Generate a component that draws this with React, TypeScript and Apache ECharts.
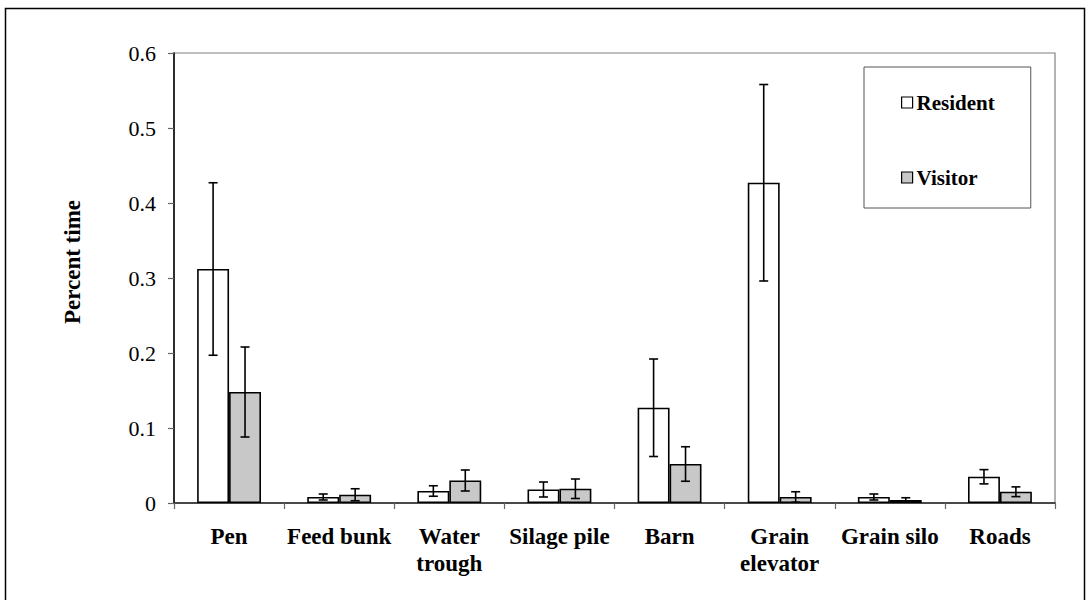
import React, { useEffect, useRef } from "react";
import * as echarts from "echarts";

const categories = ["Pen", "Feed bunk", "Water\ntrough", "Silage pile", "Barn", "Grain\nelevator", "Grain silo", "Roads"];
const resident = [0.312, 0.008, 0.016, 0.018, 0.127, 0.427, 0.008, 0.035];
const residentErr = [0.115, 0.004, 0.007, 0.01, 0.065, 0.131, 0.004, 0.0095];
const visitor = [0.148, 0.011, 0.03, 0.019, 0.052, 0.008, 0.004, 0.015];
const visitorErr = [0.06, 0.008, 0.014, 0.013, 0.023, 0.007, 0.003, 0.0065];
const yTicks = [0, 0.1, 0.2, 0.3, 0.4, 0.5, 0.6];
const yTitle = "Percent time";

const FONT = "Liberation Serif";
const GAP = 0.42;

function errSeries(name: string, vals: number[], errs: number[], side: number) {
  return {
    type: "custom",
    name: name + " err",
    silent: true,
    z: 5,
    data: vals.map((v, i) => [i, Math.max(0, v - errs[i]), v + errs[i]]),
    renderItem: (params: any, api: any) => {
      const idx = api.value(0);
      const band = api.size([1, 0])[0];
      const off = side * band * (1 - GAP) / 4;
      const lo = api.coord([idx, api.value(1)]);
      const hi = api.coord([idx, api.value(2)]);
      const x = lo[0] + off;
      const cap = 4.5;
      const st = { stroke: "#000", lineWidth: 1.6 };
      return {
        type: "group",
        children: [
          { type: "line", shape: { x1: x, y1: lo[1], x2: x, y2: hi[1] }, style: st },
          { type: "line", shape: { x1: x - cap, y1: lo[1], x2: x + cap, y2: lo[1] }, style: st },
          { type: "line", shape: { x1: x - cap, y1: hi[1], x2: x + cap, y2: hi[1] }, style: st },
        ],
      };
    },
  };
}

export default function App() {
  const ref = useRef<HTMLDivElement>(null);
  useEffect(() => {
    if (!ref.current) return;
    const chart = echarts.init(ref.current, null, { renderer: "svg" });
    chart.setOption({
      animation: false,
      backgroundColor: "#fff",
      textStyle: { fontFamily: FONT, color: "#000" },
      grid: {
        left: 174, right: 34, top: 53, bottom: 97,
        show: true, borderColor: "#808080", borderWidth: 1.2, backgroundColor: "transparent",
      },
      graphic: [
        {
          type: "rect",
          shape: { x: 5.5, y: 8.5, width: 1079, height: 600 },
          style: { fill: "none", stroke: "#000", lineWidth: 1.5 },
          z: 100,
        },
        {
          type: "text",
          x: 72.5,
          y: 262,
          rotation: Math.PI / 2,
          style: {
            text: yTitle,
            fontFamily: FONT,
            fontWeight: "bold",
            fontSize: 23,
            fill: "#000",
            align: "center",
            verticalAlign: "middle",
          },
        },
      ],
      legend: {
        orient: "vertical",
        left: 864,
        top: 67,
        padding: [25, 36, 20, 37],
        itemGap: 54,
        itemWidth: 11,
        itemHeight: 11,
        borderColor: "#555",
        borderWidth: 1,
        backgroundColor: "#fff",
        textStyle: { fontFamily: FONT, fontWeight: "bold", fontSize: 21, color: "#000", padding: [0, 0, 0, -1] },
        data: [
          { name: "Resident", icon: "rect", itemStyle: { color: "#fff", borderColor: "#000", borderWidth: 1.2 } },
          { name: "Visitor", icon: "rect", itemStyle: { color: "#c8c8c8", borderColor: "#000", borderWidth: 1.2 } },
        ],
      },
      xAxis: {
        type: "category",
        data: categories,
        axisLine: { lineStyle: { color: "#222", width: 1.5 } },
        axisTick: { show: true, length: 6, lineStyle: { color: "#666", width: 1.2 } },
        axisLabel: {
          fontFamily: FONT, fontWeight: "bold", fontSize: 23, color: "#000",
          lineHeight: 27, margin: 20, interval: 0,
        },
        splitLine: { show: false },
      },
      yAxis: {
        type: "value",
        min: yTicks[0],
        max: yTicks[yTicks.length - 1],
        interval: 0.1,
        axisLine: { show: true, lineStyle: { color: "#000", width: 1.5 } },
        axisTick: { show: true, length: 6, lineStyle: { color: "#666", width: 1.2 } },
        axisLabel: { fontFamily: FONT, fontSize: 22, color: "#000", margin: 18 },
        splitLine: { show: false },
      },
      series: [
        {
          type: "bar",
          name: "Resident",
          data: resident,
          barGap: "0%",
          barCategoryGap: GAP * 100 + "%",
          itemStyle: { color: "#fff", borderColor: "#000", borderWidth: 1.6 },
        },
        {
          type: "bar",
          name: "Visitor",
          data: visitor,
          barGap: "0%",
          barCategoryGap: GAP * 100 + "%",
          itemStyle: { color: "#c8c8c8", borderColor: "#000", borderWidth: 1.6 },
        },
        errSeries("Resident", resident, residentErr, -1),
        errSeries("Visitor", visitor, visitorErr, 1),
      ],
    });
    return () => chart.dispose();
  }, []);
  return <div ref={ref} style={{ position: "absolute", left: 0, top: 0, width: 1089, height: 600 }} />;
}
